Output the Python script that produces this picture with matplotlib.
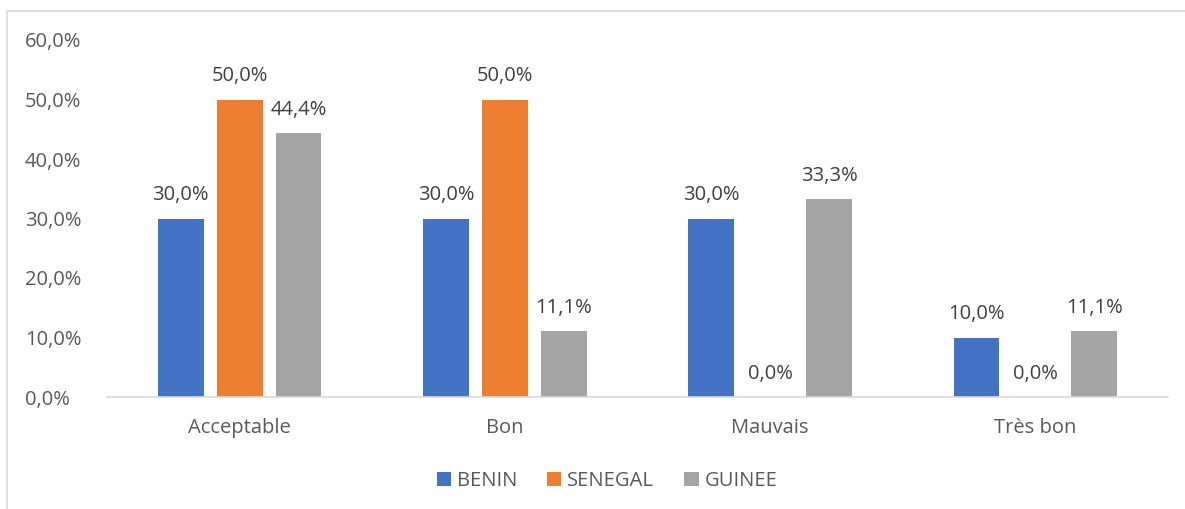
import numpy as np
import matplotlib
matplotlib.use("Agg")
from matplotlib import pyplot as plt
from matplotlib.patches import Rectangle

categories = ["Acceptable", "Bon", "Mauvais", "Très bon"]
series = ["BENIN", "SENEGAL", "GUINEE"]
benin = [30.0, 30.0, 30.0, 10.0]
senegal = [50.0, 50.0, 0.0, 0.0]
guinee = [44.4, 11.1, 33.3, 11.1]
colors = ["#4472C4", "#ED7D31", "#A5A5A5"]
yticks = [0, 10, 20, 30, 40, 50, 60]

plt.rcParams['font.family'] = ['Open Sans', 'DejaVu Sans']
fs = 14.5

fig = plt.figure(figsize=(11.85, 5.09), dpi=100)
fig.patches.append(Rectangle((7/1185, -0.1), 1.1, 1.1 - 11/509, transform=fig.transFigure,
                             fill=False, edgecolor="#D9D9D9", linewidth=1.2))
ax = fig.add_axes([107/1185, 1 - 397/509, 1061/1185, (397 - 40)/509])

x = np.arange(len(categories))
width = 0.173
step = 0.222
for i, (name, vals) in enumerate(zip(series, [benin, senegal, guinee])):
    pos = x + (i - 1) * step
    ax.bar(pos, vals, width, color=colors[i], label=name)
    for p, v in zip(pos, vals):
        ax.text(p, v + 2.2, f"{v:.1f}%".replace(".", ","), ha="center", va="bottom",
                fontsize=fs, color="#404040")

ax.set_xlim(-0.5, len(categories) - 0.5)
ax.set_ylim(0, 60)
ax.set_yticks(yticks)
ax.set_yticklabels([f"{t:.1f}%".replace(".", ",") for t in yticks], fontsize=fs, color="#595959")
ax.set_xticks(x)
ax.set_xticklabels(categories, fontsize=fs, color="#595959")
ax.tick_params(axis="both", length=0)
ax.tick_params(axis="x", pad=15)
ax.tick_params(axis="y", pad=59)
for s in ["top", "right", "left"]:
    ax.spines[s].set_visible(False)
ax.spines["bottom"].set_color("#D9D9D9")
ax.spines["bottom"].set_linewidth(1.2)
for lab in ax.get_yticklabels():
    lab.set_horizontalalignment("left")

leg = fig.legend(loc="center", bbox_to_anchor=(607/1185, 1 - 481/509), ncol=3, frameon=False,
                 fontsize=fs, handlelength=0.7, handleheight=0.7, handletextpad=0.3,
                 columnspacing=1.5)
for t in leg.get_texts():
    t.set_color("#595959")

fig.savefig("out.png", dpi=100)
